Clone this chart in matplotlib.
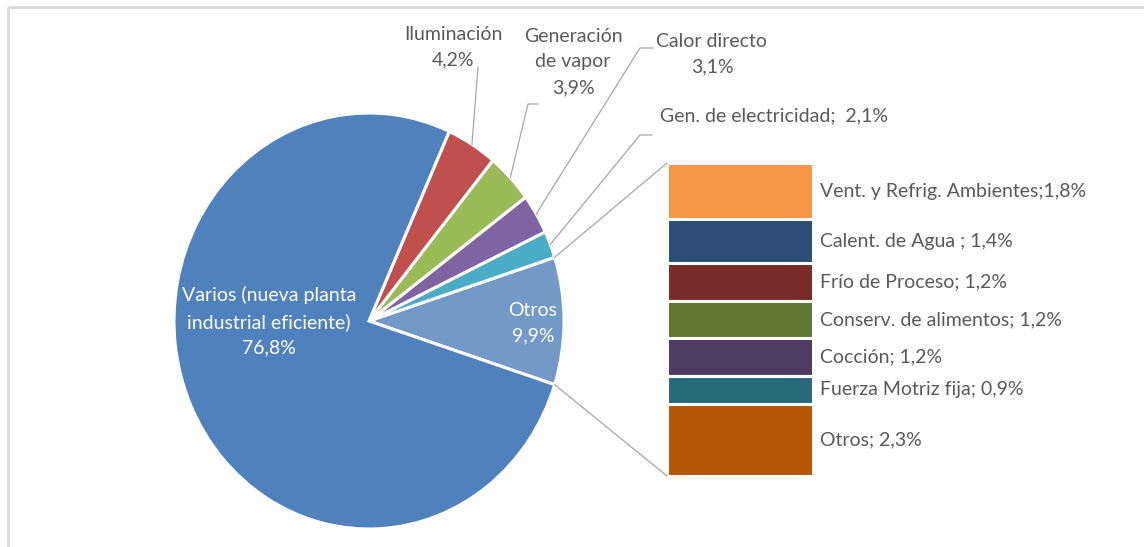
import matplotlib
matplotlib.use("Agg")
import matplotlib.pyplot as plt
import numpy as np

plt.rcParams['font.family'] = ['Lato', 'DejaVu Sans']

# ---- data ----
pie_labels = ["Otros", "Gen. de electricidad", "Calor directo", "Generación\nde vapor",
              "Iluminación", "Varios (nueva planta\nindustrial eficiente)"]
pie_values = [9.9, 2.1, 3.1, 3.9, 4.2, 76.8]
pie_colors = ["#7399C6", "#4BACC6", "#8064A2", "#9BBB59", "#C0504D", "#4F81BD"]

bar_labels = ["Vent. y Refrig. Ambientes", "Calent. de Agua ", "Frío de Proceso",
              "Conserv. de alimentos", "Cocción", "Fuerza Motriz fija", "Otros"]
bar_values = [1.8, 1.4, 1.2, 1.2, 1.2, 0.9, 2.3]
bar_colors = ["#F79646", "#2C4D75", "#772C2A", "#5F7530", "#4D3B62", "#276A7C", "#B65708"]

W, H = 1144, 547
fig = plt.figure(figsize=(W / 100, H / 100), dpi=100)
fig.patch.set_facecolor("white")


def px_axes(x0, y0, x1, y1, z=1):
    return fig.add_axes([x0 / W, 1 - y1 / H, (x1 - x0) / W, (y1 - y0) / H], zorder=z)


def fmt(v):
    return f"{v:.1f}".replace(".", ",") + "%"


TXT = "#595959"
LINE = "#A6A6A6"
FS = 14
LS = 1.62

# ---- pie ----
cx, cy, rx, ry = 369, 321, 195, 208
pax = px_axes(cx - rx, cy - ry, cx + rx, cy + ry)
start = -pie_values[0] / sum(pie_values) * 360 / 2
wedges, _ = pax.pie(pie_values, colors=pie_colors, startangle=start, counterclock=True,
                    radius=1, wedgeprops=dict(edgecolor="white", linewidth=2.2))
pax.set_aspect("auto")
pax.set_xlim(-1, 1)
pax.set_ylim(-1, 1)
pax.axis("off")

# ---- bar ----
bx0, by0, bx1, by1 = 667, 163, 813, 476
bax = px_axes(bx0, by0, bx1, by1)
bottoms = np.concatenate([[0], np.cumsum(bar_values)[:-1]])
bax.bar([0] * len(bar_values), bar_values, bottom=bottoms, width=1, color=bar_colors,
        edgecolor="white", linewidth=2.2)
bax.set_xlim(-0.5, 0.5)
bax.set_ylim(sum(bar_values), 0)
bax.axis("off")

# ---- overlay in pixel coords ----
ov = fig.add_axes([0, 0, 1, 1], zorder=5)
ov.set_xlim(0, W)
ov.set_ylim(H, 0)
ov.axis("off")
ov.patch.set_alpha(0)


def pie_pt(angle_deg, r=1.0):
    a = np.deg2rad(angle_deg)
    disp = pax.transData.transform((r * np.cos(a), r * np.sin(a)))
    return ov.transData.inverted().transform(disp)


def bar_pt(x, y):
    disp = bax.transData.transform((x, y))
    return ov.transData.inverted().transform(disp)


# frame lines (top and left)
ov.plot([8, W], [7, 7], color="#D9D9D9", lw=2, solid_capstyle="butt")
ov.plot([8, 8], [7, H], color="#D9D9D9", lw=2, solid_capstyle="butt")

# connector lines from Otros slice to bar
w0 = wedges[0]
p_top = pie_pt(w0.theta2)
p_bot = pie_pt(w0.theta1)
bt = bar_pt(-0.5, 0)
bb = bar_pt(-0.5, sum(bar_values))
ov.plot([p_top[0], bt[0]], [p_top[1], bt[1]], color=LINE, lw=0.9)
ov.plot([p_bot[0], bb[0]], [p_bot[1], bb[1]], color=LINE, lw=0.9)

mids = [(w.theta1 + w.theta2) / 2 for w in wedges]

# inside labels
ov.text(533, 323, f"{pie_labels[0]}\n{fmt(pie_values[0])}", color="white", fontsize=FS,
        ha="center", va="center", linespacing=LS)
ov.text(269, 321, f"{pie_labels[5]}\n{fmt(pie_values[5])}", color="white", fontsize=FS,
        ha="center", va="center", linespacing=LS)

# outside labels with leader lines
# Iluminación
ov.text(453, 47, f"{pie_labels[4]}\n{fmt(pie_values[4])}", color=TXT, fontsize=FS,
        ha="center", va="center", linespacing=LS)
e = pie_pt(mids[4], 1.0)
ov.plot([478, e[0]], [67, e[1]], color=LINE, lw=0.9)

# Generación de vapor
ov.text(573, 62, f"{pie_labels[3]}\n{fmt(pie_values[3])}", color=TXT, fontsize=FS,
        ha="center", va="center", linespacing=LS)
e = pie_pt(mids[3], 1.0)
ov.plot([538, 528, e[0]], [104, 104, e[1]], color=LINE, lw=0.9)

# Calor directo
ov.text(712, 54, f"{pie_labels[2]}\n{fmt(pie_values[2])}", color=TXT, fontsize=FS,
        ha="center", va="center", linespacing=LS)
e = pie_pt(mids[2], 1.0)
ov.plot([653, 640, e[0]], [48, 48, e[1]], color=LINE, lw=0.9)

# Gen. de electricidad
ov.text(660, 116, f"{pie_labels[1]};  {fmt(pie_values[1])}", color=TXT, fontsize=FS,
        ha="left", va="center")
e = pie_pt(mids[1], 1.0)
ov.plot([652, 640, e[0]], [135, 135, e[1]], color=LINE, lw=0.9)

# bar labels
for lab, v, b in zip(bar_labels, bar_values, bottoms):
    _, yc = bar_pt(0, b + v / 2)
    sep = ";" if lab.startswith("Vent") else "; "
    ov.text(820, yc, f"{lab}{sep}{fmt(v)}", color=TXT, fontsize=FS, ha="left", va="center")

fig.savefig("out.png", dpi=100, facecolor="white")
